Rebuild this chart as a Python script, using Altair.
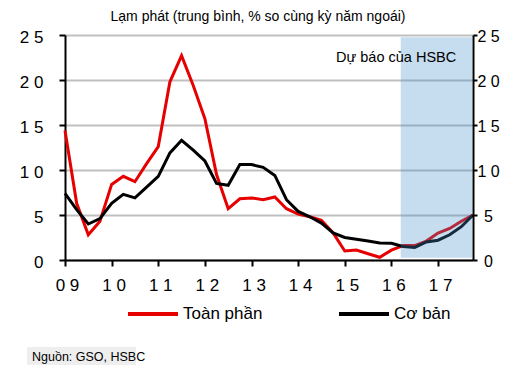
import altair as alt
import pandas as pd

# ---- data (quarterly, 2009Q1 .. 2017Q4) ----
quarters = [2009 + i * 0.25 for i in range(36)]
headline = [14.4, 6.3, 2.8, 4.3, 8.4, 9.3, 8.7, 10.7, 12.6, 19.8, 22.7, 19.4,
            15.7, 9.5, 5.7, 6.8, 6.9, 6.7, 7.0, 5.7, 5.1, 4.8, 4.4, 3.0,
            1.0, 1.1, 0.7, 0.3, 1.1, 1.6, 1.6, 2.1, 3.0, 3.5, 4.3, 5.0]
core = [7.4, 5.6, 4.0, 4.6, 6.3, 7.3, 6.9, 8.1, 9.3, 11.9, 13.3, 12.2,
        11.0, 8.5, 8.3, 10.6, 10.6, 10.3, 9.4, 6.7, 5.4, 4.8, 4.1, 3.0,
        2.5, 2.3, 2.1, 1.9, 1.85, 1.5, 1.4, 2.0, 2.2, 2.8, 3.7, 5.0]
series_names = ["Toàn phần", "Cơ bản"]
series_colors = ["#e60000", "#000000"]
tick_years = list(range(2009, 2018))
y_ticks = [0, 5, 10, 15, 20, 25]
forecast_start = 2016.2
forecast_end = 2017.73
title_text = "Lạm phát (trung bình, % so cùng kỳ năm ngoái)"
forecast_label = "Dự báo của HSBC"
source_text = "Nguồn: GSO, HSBC"

rows = []
for q, h, c in zip(quarters, headline, core):
    rows.append({"t": q, "v": h, "s": series_names[0]})
    rows.append({"t": q, "v": c, "s": series_names[1]})
df = pd.DataFrame(rows)

FONT = "Liberation Sans"

xscale = alt.Scale(domain=[2009, 2017.75], nice=False, zero=False)
yscale = alt.Scale(domain=[0, 25], nice=False)

x_axis = alt.Axis(values=tick_years, title=None, grid=False, labelFlush=False,
                  labelExpr="substring(toString(datum.value), 2, 3) + ' ' + substring(toString(datum.value), 3, 4)",
                  labelFontSize=17, labelFont=FONT, labelColor="black",
                  domainColor="black", domainWidth=2, tickColor="black", tickWidth=2,
                  tickSize=6, labelPadding=11, labelOffset=2)

ylab = "datum.value >= 10 ? toString(floor(datum.value/10)) + ' ' + toString(datum.value % 10) : datum.label"

left_axis = alt.Axis(values=y_ticks, title=None, orient="left", grid=True,
                     gridColor="#c0c0c0", gridWidth=2, labelExpr=ylab, labelFlush=False,
                     labelFontSize=17, labelFont=FONT, labelColor="black",
                     domainColor="black", domainWidth=2, tickColor="black", tickWidth=2,
                     tickSize=6, labelPadding=16, labelOffset=2)
right_axis = alt.Axis(values=y_ticks, title=None, orient="right", grid=False,
                      labelExpr=ylab, labelAlign="center", labelFlush=False,
                      labelFontSize=16, labelFont=FONT, labelColor="black",
                      domainColor="black", domainWidth=2, tickColor="black", tickWidth=2,
                      tickSize=4, labelPadding=11, labelOffset=1)

lines = alt.Chart(df).mark_line(strokeWidth=3).encode(
    x=alt.X("t:Q", scale=xscale, axis=x_axis),
    y=alt.Y("v:Q", scale=yscale, axis=left_axis),
    color=alt.Color("s:N", scale=alt.Scale(domain=series_names, range=series_colors),
                    sort=series_names,
                    legend=alt.Legend(title=None, orient="none", legendX=61, legendY=252,
                                      direction="horizontal", symbolType="stroke",
                                      symbolSize=2500, symbolStrokeWidth=4,
                                      labelFontSize=17, labelFont=FONT, labelColor="black",
                                      labelOffset=3, columnPadding=68, padding=0)),
    order="t:Q",
)

region_df = pd.DataFrame({"x": [forecast_start], "x2": [forecast_end], "y": [0.25], "y2": [24.75]})
region = alt.Chart(region_df).mark_rect(color="#418aca", opacity=0.3).encode(
    x=alt.X("x:Q", scale=xscale, axis=x_axis), x2="x2:Q",
    y=alt.Y("y:Q", scale=yscale, axis=right_axis), y2="y2:Q",
)

label_df = pd.DataFrame({"x": [2017.39], "y": [22.44], "text": [forecast_label]})
flabel = alt.Chart(label_df).mark_text(align="right", baseline="middle", fontSize=14.5,
                                        font=FONT, color="black").encode(
    x=alt.X("x:Q", scale=xscale, axis=x_axis), y=alt.Y("y:Q", scale=yscale, axis=None),
    text="text:N")

src_df = pd.DataFrame({"text": [source_text]})
src_bg = alt.Chart(src_df).mark_rect(color="#eeeeee").encode(
    x=alt.value(-38), x2=alt.value(71), y=alt.value(312), y2=alt.value(330))
src = alt.Chart(src_df).mark_text(align="left", baseline="middle", fontSize=12.5,
                                  font=FONT, color="black").encode(
    x=alt.value(-33), y=alt.value(322), text="text:N")

chart = alt.layer(lines, region, flabel, src_bg, src).resolve_axis(y="independent").properties(
    width=408, height=225,
    title=alt.TitleParams(title_text, fontSize=14, font=FONT, fontWeight="normal",
                          color="black", anchor="middle", dx=-11, offset=4),
    autosize=alt.AutoSizeParams(type="none"),
    padding={"left": 57, "top": 27, "right": 39, "bottom": 107},
).configure_view(stroke=None).configure(background="white")

chart.save("out.html", embed_options={"renderer": "svg", "actions": False})
